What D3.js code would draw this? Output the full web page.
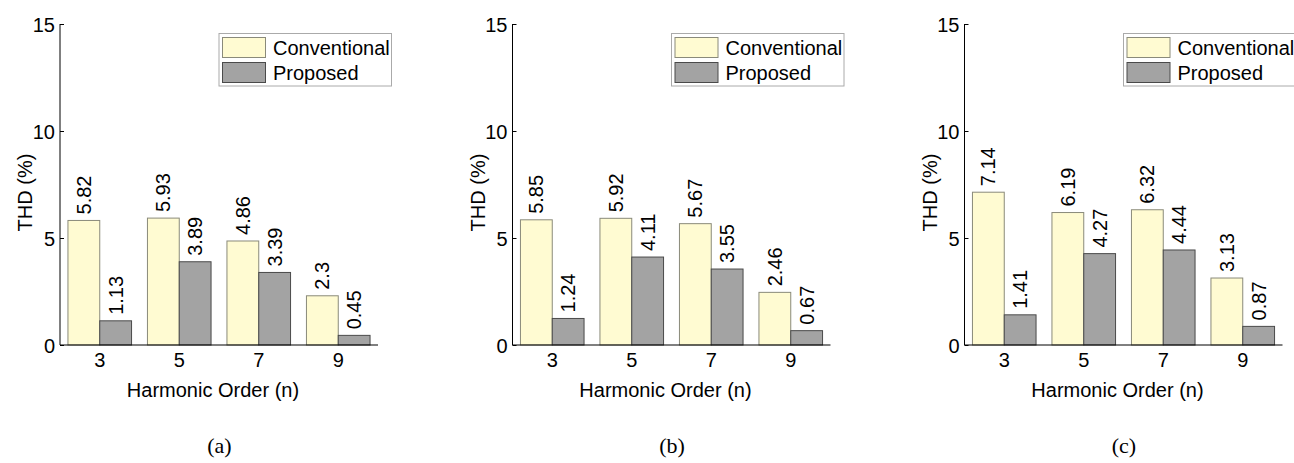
<!DOCTYPE html>
<html>
<head>
<meta charset="utf-8">
<script src="https://cdn.jsdelivr.net/npm/d3@7"></script>
<style>
  html, body { margin: 0; padding: 0; background: #fff; }
  svg { display: block; }
  text { font-family: "Liberation Sans", Arial, sans-serif; fill: #000; }
  .caption { font-family: "Liberation Serif", "Times New Roman", serif; }
</style>
</head>
<body>
<svg id="chart" width="1294" height="463"></svg>
<script>
// Harmonic orders on the x axis
const harmonics = ["3", "5", "7", "9"];
const seriesNames = ["Conventional", "Proposed"];
const yTicks = [0, 5, 10, 15];
const panelCaptions = ["(a)", "(b)", "(c)"];

// THD (%) per harmonic order, one pair of arrays per case
const conventionalA = [5.82, 5.93, 4.86, 2.3];
const proposedA     = [1.13, 3.89, 3.39, 0.45];
const conventionalB = [5.85, 5.92, 5.67, 2.46];
const proposedB     = [1.24, 4.11, 3.55, 0.67];
const conventionalC = [7.14, 6.19, 6.32, 3.13];
const proposedC     = [1.41, 4.27, 4.44, 0.87];

const panels = [
  { caption: panelCaptions[0], series: [conventionalA, proposedA], left: 60 },
  { caption: panelCaptions[1], series: [conventionalB, proposedB], left: 512.5 },
  { caption: panelCaptions[2], series: [conventionalC, proposedC], left: 964.5 }
];

const colors = ["#fffbd2", "#a3a3a3"];
const strokes = ["#8a8a7a", "#4a4a4a"];
const plotW = 318, plotTop = 24, plotBottom = 345;
const fontSize = 20;

const svg = d3.select("#chart");

panels.forEach(p => {
  const g = svg.append("g").attr("transform", `translate(${p.left},0)`);

  const x = d3.scaleBand().domain(harmonics).range([0, plotW]).padding(0);
  const xInner = d3.scaleBand().domain(seriesNames)
    .range([x.bandwidth() * 0.1, x.bandwidth() * 0.9]).padding(0);
  const y = d3.scaleLinear().domain([0, 15]).range([plotBottom, plotTop]);

  // bars
  p.series.forEach((vals, si) => {
    g.selectAll(null).data(vals).enter().append("rect")
      .attr("x", (d, i) => x(harmonics[i]) + xInner(seriesNames[si]))
      .attr("y", d => y(d))
      .attr("width", xInner.bandwidth())
      .attr("height", d => y(0) - y(d))
      .attr("fill", colors[si])
      .attr("stroke", strokes[si])
      .attr("stroke-width", 1);

    // value labels, rotated above each bar
    g.selectAll(null).data(vals).enter().append("text")
      .attr("transform", (d, i) => {
        const cx = x(harmonics[i]) + xInner(seriesNames[si]) + xInner.bandwidth() / 2;
        return `translate(${cx},${y(d) - 6}) rotate(-90)`;
      })
      .attr("dy", "0.35em")
      .attr("text-anchor", "start")
      .style("font-size", fontSize + "px")
      .text(d => String(d));
  });

  // y axis
  const yAxis = d3.axisLeft(y).tickValues(yTicks).tickSize(-4).tickPadding(5);
  const ya = g.append("g").call(yAxis);
  ya.select(".domain").attr("d", `M0,${plotTop}V${plotBottom}`).attr("stroke", "#000");
  ya.selectAll("line").attr("stroke", "#000");
  ya.selectAll("text").style("font-size", fontSize + "px").attr("dy", "0.35em");

  // x axis
  const xAxis = d3.axisBottom(x).tickSize(0).tickPadding(8);
  const xa = g.append("g").attr("transform", `translate(0,${plotBottom})`).call(xAxis);
  xa.select(".domain").attr("d", `M0,0H${plotW}`).attr("stroke", "#000");
  xa.selectAll("text").style("font-size", fontSize + "px").attr("dy", "0.71em");

  // axis titles
  g.append("text")
    .attr("transform", `translate(-28,${(plotTop + plotBottom) / 2 + 8}) rotate(-90)`)
    .attr("text-anchor", "middle")
    .style("font-size", fontSize + "px")
    .text("THD (%)");
  g.append("text")
    .attr("x", plotW / 2 - 6).attr("y", 397)
    .attr("text-anchor", "middle")
    .style("font-size", fontSize + "px")
    .text("Harmonic Order (n)");

  // legend
  const lg = g.append("g").attr("transform", "translate(159,33.5)");
  lg.append("rect").attr("width", 172.5).attr("height", 52.5)
    .attr("fill", "#fff").attr("stroke", "#aaa").attr("stroke-width", 1);
  seriesNames.forEach((name, i) => {
    lg.append("rect")
      .attr("x", 3.5).attr("y", 4 + i * 25)
      .attr("width", 43).attr("height", 20)
      .attr("fill", colors[i]).attr("stroke", strokes[i]).attr("stroke-width", 1);
    lg.append("text")
      .attr("x", 54).attr("y", 14 + i * 25).attr("dy", "0.35em")
      .style("font-size", fontSize + "px")
      .text(name);
  });

  // panel caption
  g.append("text").attr("class", "caption")
    .attr("x", plotW / 2 + 0.5).attr("y", 453)
    .attr("text-anchor", "middle")
    .style("font-size", "22px")
    .text(p.caption);
});
</script>
</body>
</html>
